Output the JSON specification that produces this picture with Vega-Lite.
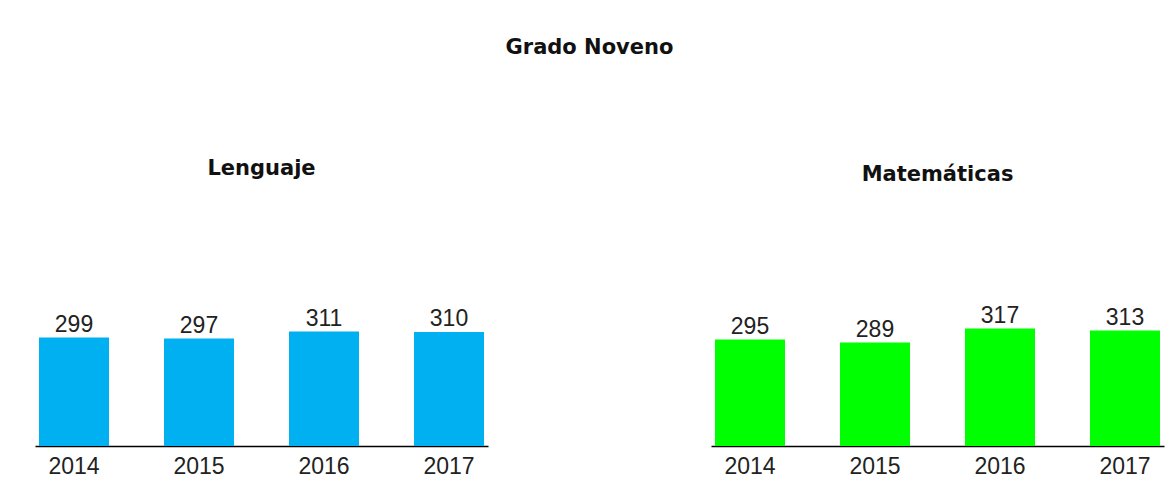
{
  "$schema": "https://vega.github.io/schema/vega-lite/v6.json",
  "background": "white",
  "autosize": {"type": "pad"},
  "padding": {"left": 35, "top": 36, "right": 4, "bottom": 0},
  "title": {"text": "Grado Noveno", "anchor": "middle", "font": "DejaVu Sans", "fontSize": 21, "fontWeight": "bold", "color": "#111111", "baseline": "alphabetic", "offset": 83, "dx": -10},
  "datasets": {
    "lenguaje": [
      {"year": "2014", "value": 299},
      {"year": "2015", "value": 297},
      {"year": "2016", "value": 311},
      {"year": "2017", "value": 310}
    ],
    "matematicas": [
      {"year": "2014", "value": 295},
      {"year": "2015", "value": 289},
      {"year": "2016", "value": 317},
      {"year": "2017", "value": 313}
    ]
  },
  "spacing": 223,
  "config": {
    "view": {"stroke": null},
    "axisX": {"domainColor": "#000000", "domainWidth": 1.5, "ticks": false, "labelFont": "Liberation Sans", "labelFontSize": 23, "labelColor": "#222222", "labelPadding": 9, "labelAngle": 0, "title": null, "grid": false}
  },
  "hconcat": [
    {
      "width": 453,
      "height": 124,
      "data": {"name": "lenguaje"},
      "title": {"text": "Lenguaje", "anchor": "middle", "font": "DejaVu Sans", "fontSize": 21, "fontWeight": "bold", "color": "#111111", "baseline": "alphabetic", "offset": 112},
      "encoding": {
        "x": {"field": "year", "type": "ordinal", "scale": {"paddingInner": 0.44, "paddingOuter": 0.032}, "axis": {}},
        "y": {"field": "value", "type": "quantitative", "scale": {"domain": [82, 330], "zero": false}, "axis": null}
      },
      "layer": [
        {"mark": {"type": "bar", "color": "#00B0F0"}, "encoding": {"y2": {"datum": 82}}},
        {"mark": {"type": "text", "baseline": "alphabetic", "dy": -6, "font": "Liberation Sans", "fontSize": 23, "color": "#222222"}, "encoding": {"text": {"field": "value"}}}
      ]
    },
    {
      "width": 453,
      "height": 124,
      "data": {"name": "matematicas"},
      "title": {"text": "Matemáticas", "anchor": "middle", "font": "DejaVu Sans", "fontSize": 21, "fontWeight": "bold", "color": "#111111", "baseline": "alphabetic", "offset": 103},
      "encoding": {
        "x": {"field": "year", "type": "ordinal", "scale": {"paddingInner": 0.44, "paddingOuter": 0.032}, "axis": {}},
        "y": {"field": "value", "type": "quantitative", "scale": {"domain": [82, 330], "zero": false}, "axis": null}
      },
      "layer": [
        {"mark": {"type": "bar", "color": "#00FF00"}, "encoding": {"y2": {"datum": 82}}},
        {"mark": {"type": "text", "baseline": "alphabetic", "dy": -6, "font": "Liberation Sans", "fontSize": 23, "color": "#222222"}, "encoding": {"text": {"field": "value"}}}
      ]
    }
  ]
}
